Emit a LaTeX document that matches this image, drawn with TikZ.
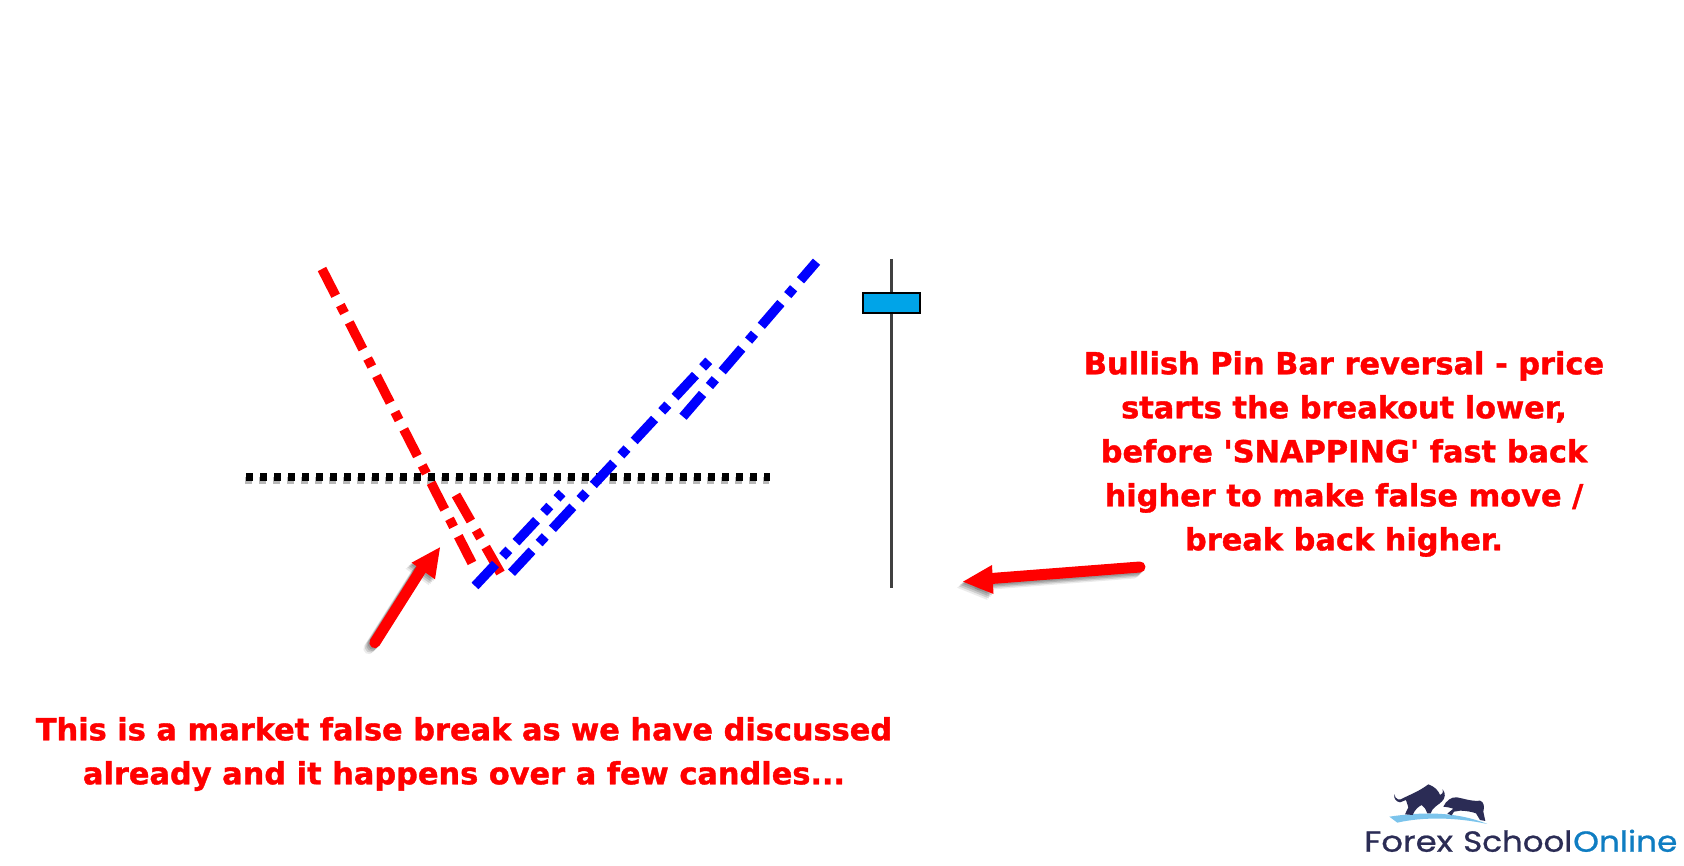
\documentclass[tikz,border=0pt]{standalone}
\usepackage{fontspec}
\setmainfont{DejaVu Sans}[Ligatures=TeXOff,BoldFont={DejaVu Sans Bold},BoldFeatures={FakeBold=1.2}]
\newfontfamily\logofont{Poppins}[FakeBold=0.8]
\definecolor{logonavy}{HTML}{2B2C55}
\definecolor{logoblue}{HTML}{0F7DC2}
\definecolor{swoosh}{HTML}{7CC4EC}
\definecolor{candleblue}{HTML}{00A4E8}
\tikzset{
  trendline/.style={line width=9.5pt,dash pattern=on 30pt off 10.5pt on 9pt off 10.5pt},
  dotline/.style={line width=7.5pt,dash pattern=on 7pt off 7pt,black},
  callout/.style={text=red,font=\bfseries\fontsize{30.4}{44}\selectfont,align=center,inner sep=0pt},
  shaft/.style={red,line width=11pt,line cap=round},
  logotext/.style={font=\logofont\fontsize{29}{29}\selectfont,anchor=base west,inner sep=0pt},
}
\begin{document}
\begin{tikzpicture}[x=1pt,y=-1pt]
\useasboundingbox (0,0) rectangle (1684,866);
\fill[white] (0,0) rectangle (1684,866);
% coordinates
\coordinate (r1a) at (322,269);  \coordinate (r1b) at (472,563);
\coordinate (r2a) at (456,495);  \coordinate (r2b) at (500.5,573);
\coordinate (b1a) at (475,586);  \coordinate (b1b) at (562,493);
\coordinate (b2a) at (511.5,572.7); \coordinate (b2b) at (709.5,360);
\coordinate (b3a) at (683,416.7); \coordinate (b3b) at (816.5,261.7);
\coordinate (d1) at (246,477);   \coordinate (d2) at (770,477);
\coordinate (wt) at (891.7,259); \coordinate (wb) at (891.7,588);
\coordinate (atl) at (374.8,642.7); \coordinate (anl) at (422,568);
\coordinate (ttl) at (440,547.3); \coordinate (hl1) at (411.6,562.7); \coordinate (hl2) at (435,579.3);
\coordinate (atr) at (1140,567); \coordinate (anr) at (985,579);
\coordinate (ttr) at (963,581.7); \coordinate (hr1) at (992,565); \coordinate (hr2) at (993.5,594);
% soft shadows
\foreach \o/\p in {1.5/.14,3/.14,4.5/.12,6/.08}{
  \draw[line width=11pt,line cap=round,black,opacity=\p] ([shift={(-\o,\o)}]atl) -- ([shift={(-\o,\o)}]anl);
  \fill[black,opacity=\p] ([shift={(-\o,\o)}]ttl) -- ([shift={(-\o,\o)}]hl1) -- ([shift={(-\o,\o)}]hl2) -- cycle;
  \draw[line width=11pt,line cap=round,black,opacity=\p] ([shift={(-\o,\o)}]atr) -- ([shift={(-\o,\o)}]anr);
  \fill[black,opacity=\p] ([shift={(-\o,\o)}]ttr) -- ([shift={(-\o,\o)}]hr1) -- ([shift={(-\o,\o)}]hr2) -- cycle;
}
\draw[dotline,opacity=.28] ([shift={(-1,3.5)}]d1) -- ([shift={(-1,3.5)}]d2);
% trend lines
\draw[trendline,red] (r1a) -- (r1b);
\draw[trendline,red] (r2a) -- (r2b);
\draw[dotline] (d1) -- (d2);
\draw[trendline,blue] (b1a) -- (b1b);
\draw[trendline,blue] (b2a) -- (b2b);
\draw[trendline,blue] (b3a) -- (b3b);
% pin bar
\draw[line width=2.6pt,black!75] (wt) -- (wb);
\node[draw=black,line width=1.8pt,fill=candleblue,minimum width=57pt,minimum height=20pt,inner sep=0pt] (body) at (891.5,302.7) {};
% arrows
\draw[shaft] (atl) -- (anl);
\fill[red] (ttl) -- (hl1) -- (hl2) -- cycle;
\draw[shaft] (atr) -- (anr);
\fill[red] (ttr) -- (hr1) -- (hr2) -- cycle;
% texts
\node[callout] (txtr) at (1344,454) {Bullish Pin Bar reversal - price\\starts the breakout lower,\\before 'SNAPPING' fast back\\higher to make false move /\\break back higher.};
\node[callout] (txtl) at (464,754) {This is a market false break as we have discussed\\already and it happens over a few candles...};
% logo
\begin{scope}[shift={(1340,770)},x=.3333pt,y=-.3333pt]
  \fill[swoosh] (148,140) .. controls (250,125) and (350,125) .. (442,162) .. controls (350,142) and (250,140) .. (172,158) -- cycle;
  \fill[logonavy] (163,72) .. controls (165,90) and (180,92) .. (190,84) .. controls (215,72) and (240,62) .. (265,43)
    .. controls (285,50) and (295,62) .. (300,75) .. controls (306,75) and (310,68) .. (308,58)
    .. controls (318,70) and (316,85) .. (305,95) .. controls (295,105) and (285,108) .. (278,118) -- (272,130)
    -- (262,130) -- (255,115) -- (245,105) .. controls (235,110) and (225,118) .. (218,135) -- (195,133)
    -- (205,112) -- (198,90) -- (180,97) .. controls (168,95) and (160,85) .. (163,72) -- cycle;
  \fill[logonavy] (310,110) .. controls (318,92) and (335,80) .. (350,82) .. controls (370,85) and (395,95) .. (420,92)
    .. controls (432,95) and (434,110) .. (430,125) -- (436,153) -- (420,150) -- (408,130)
    .. controls (395,125) and (375,122) .. (360,122) -- (342,125) -- (335,136) -- (322,131)
    -- (340,116) -- (325,112) -- cycle;
\end{scope}
\node[logotext,text=logonavy] (lg1) at (1364,851.7) {\scalebox{1.17}[1]{Forex}};
\node[logotext,text=logonavy] (lg2) at (1463,851.7) {\scalebox{1.12}[1]{School}};
\node[logotext,text=logoblue] (lg3) at (1573,851.7) {\scalebox{1.13}[1]{Online}};
\end{tikzpicture}
\end{document}
